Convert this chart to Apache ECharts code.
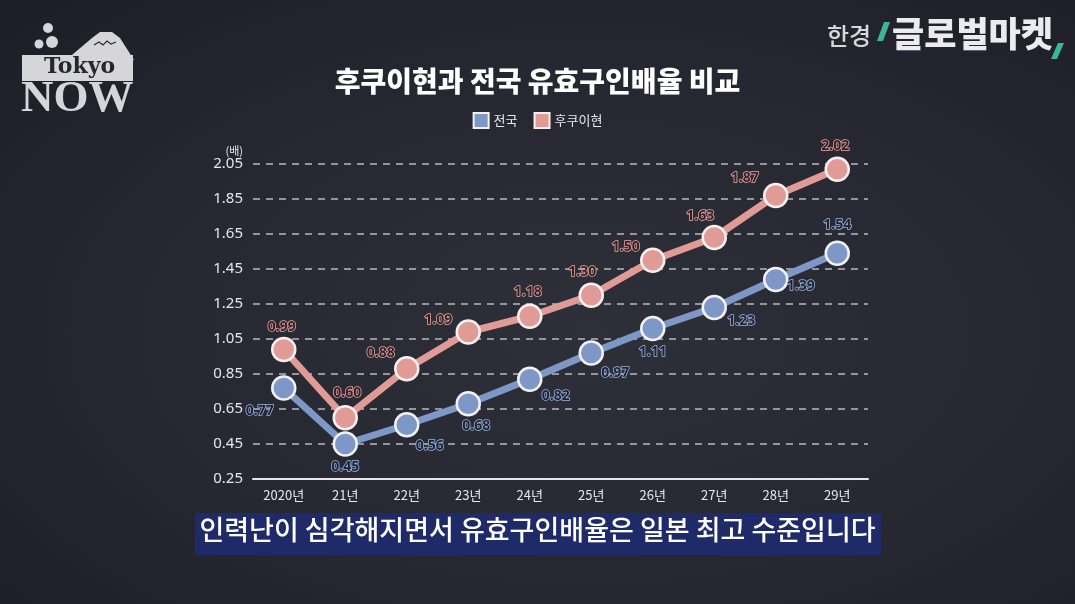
<!DOCTYPE html>
<html><head><meta charset="utf-8">
<script src="https://cdn.jsdelivr.net/npm/echarts@6/dist/echarts.min.js"></script>
<style>
html,body{margin:0;padding:0;width:1075px;height:604px;overflow:hidden;
background:radial-gradient(ellipse at 55% 55%, #2e3039 0%, #262731 55%, #1c1d26 100%);}
#c{width:1075px;height:604px;}
</style></head><body><div id="c"></div>
<script>
const categories = ['2020년','21년','22년','23년','24년','25년','26년','27년','28년','29년'];
const nationalValues = [0.77,0.45,0.56,0.68,0.82,0.97,1.11,1.23,1.39,1.54];
const fukuiValues = [0.99,0.60,0.88,1.09,1.18,1.30,1.50,1.63,1.87,2.02];
const seriesNames = ['전국','후쿠이현'];
const yTicks = {min:0.25, max:2.05, interval:0.2};

// label offsets (style only)
const nationalOffsets = [[-24,23],[0,23],[23,21],[8,22],[26,17],[24,20],[0,24],[27,14],[25,7],[0,-28]];
const fukuiOffsets = [[-2,-22],[2,-25],[-26,-16],[-30,-12],[-2,-24],[-9,-23],[-27,-13],[-14,-21],[-31,-17],[-2,-23]];

const KR = '"Noto Sans CJK KR","Noto Sans",sans-serif';
const blue = '#7d98c6', red = '#e09b97';

function mk(vals, offs){
  return vals.map((v,i)=>({value:v, label:{offset:offs[i]}}));
}

const chart = echarts.init(document.getElementById('c'));
chart.setOption({
  backgroundColor:'transparent',
  animation:false,
  title:{text:'후쿠이현과 전국 유효구인배율 비교', left:'center', top:62,
    textStyle:{color:'#ffffff', fontFamily:KR, fontWeight:900, fontSize:28}},
  legend:{top:107, left:'center', itemWidth:15, itemHeight:15, itemGap:16, icon:'rect',
    textStyle:{color:'#e8e8ec', fontFamily:KR, fontSize:13},
    data:seriesNames},
  grid:{left:253, right:207, top:164, bottom:125},
  xAxis:{type:'category', data:categories, boundaryGap:true,
    axisLine:{lineStyle:{color:'#e6e6ea', width:2}},
    axisTick:{show:false},
    axisLabel:{color:'#e6e6ea', fontFamily:KR, fontSize:13, margin:10}},
  yAxis:{type:'value', min:yTicks.min, max:yTicks.max, interval:yTicks.interval,
    name:'(배)', nameLocation:'end', nameGap:8,
    nameTextStyle:{color:'#e6e6ea', fontFamily:KR, fontSize:11, align:'right', padding:[0,10,0,0]},
    axisLine:{show:false}, axisTick:{show:false},
    axisLabel:{color:'#e6e6ea', fontFamily:'"Noto Sans",sans-serif', fontSize:15, margin:10,
      formatter:v=>v.toFixed(2)},
    splitLine:{lineStyle:{color:'#b8b9c0', type:[7,6], width:1.5}}},
  series:[
    {name:seriesNames[0], type:'line', data:mk(nationalValues,nationalOffsets),
      color:blue, symbol:'circle', symbolSize:23,
      lineStyle:{width:7, color:blue},
      itemStyle:{color:blue, borderColor:'#f2f2f6', borderWidth:2.5},
      label:{show:true, position:['50%','50%'], align:'center', verticalAlign:'middle',
        fontFamily:'"Noto Sans",sans-serif', fontSize:14, fontWeight:'bold',
        color:'#18223a', textBorderColor:'#a3b6d8', textBorderWidth:1.5,
        formatter:p=>p.value.toFixed(2)},
      z:3},
    {name:seriesNames[1], type:'line', data:mk(fukuiValues,fukuiOffsets),
      color:red, symbol:'circle', symbolSize:23,
      lineStyle:{width:7, color:red},
      itemStyle:{color:red, borderColor:'#f6f0f0', borderWidth:2.5},
      label:{show:true, position:['50%','50%'], align:'center', verticalAlign:'middle',
        fontFamily:'"Noto Sans",sans-serif', fontSize:14, fontWeight:'bold',
        color:'#381c22', textBorderColor:'#e4aca8', textBorderWidth:1.5,
        formatter:p=>p.value.toFixed(2)},
      z:4}
  ],
  graphic:[
    // caption bar
    {type:'rect', left:195, top:513, shape:{width:686, height:42}, style:{fill:'#1f2a68'}},
    {type:'text', left:'center', top:516, style:{text:'인력난이 심각해지면서 유효구인배율은 일본 최고 수준입니다',
      fill:'#ffffff', font:'500 27px '+KR}},
    // Tokyo NOW logo
    {type:'polygon', shape:{points:[[66,60],[92,38],[100,32],[112,32],[120,38],[134,60]]}, style:{fill:'#d6d6da'}},
    {type:'polyline', shape:{points:[[94,45],[99,42],[103,45],[107,41],[111,44],[116,42]]}, style:{stroke:'#2a2b33', lineWidth:1.2, fill:null}},
    {type:'circle', shape:{cx:48, cy:28, r:5}, style:{fill:'#d6d6da'}},
    {type:'circle', shape:{cx:52, cy:42, r:6}, style:{fill:'#d6d6da'}},
    {type:'circle', shape:{cx:39, cy:44, r:4.5}, style:{fill:'#d6d6da'}},
    {type:'rect', left:22, top:55, shape:{width:111, height:26}, style:{fill:'#d6d6da'}},
    {type:'text', left:44, top:56, style:{text:'Tokyo', fill:'#25262e', font:'bold 22px "DejaVu Serif","Liberation Serif",serif'}},
    {type:'text', left:21, top:77, style:{text:'NOW', fill:'#d6d6da', font:'bold 45px "Liberation Serif","DejaVu Serif",serif'}},
    // right logo
    {type:'text', left:827, top:24, style:{text:'한경', fill:'#d8d8dc', font:'500 24px '+KR}},
    {type:'polygon', shape:{points:[[884,22],[890,22],[883,41],[877,41]]}, style:{fill:'#3cb59a'}},
    {type:'text', left:892, top:16, style:{text:'글로벌마켓', fill:'#ececf0', font:'900 35px '+KR}},
    {type:'polygon', shape:{points:[[1058,43],[1064,43],[1057,59],[1051,59]]}, style:{fill:'#3cb59a'}}
  ]
});
</script></body></html>
